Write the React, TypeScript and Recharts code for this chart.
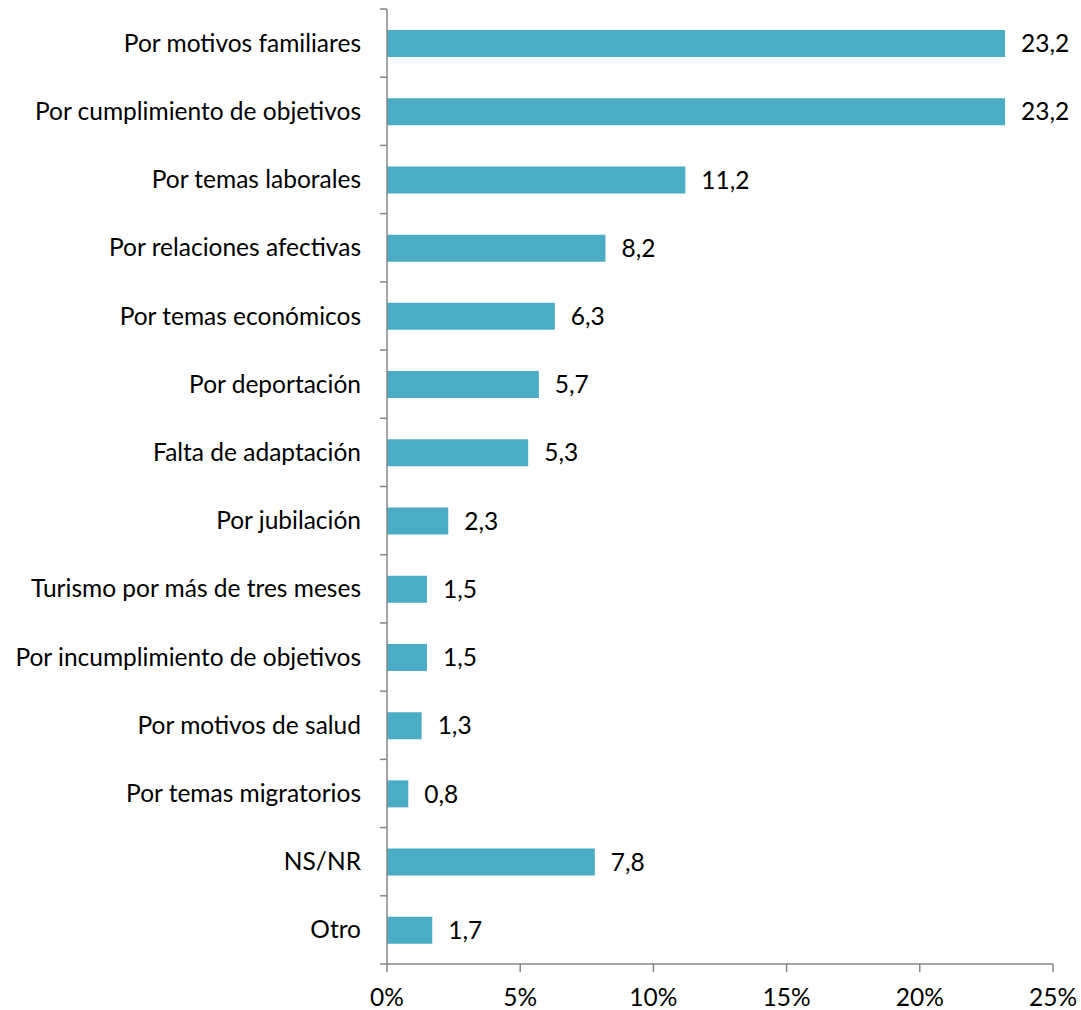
import React from 'react';
import { BarChart, Bar, XAxis, YAxis, LabelList } from 'recharts';

// Motivos de retorno (%)
const categories = [
  'Por motivos familiares',
  'Por cumplimiento de objetivos',
  'Por temas laborales',
  'Por relaciones afectivas',
  'Por temas económicos',
  'Por deportación',
  'Falta de adaptación',
  'Por jubilación',
  'Turismo por más de tres meses',
  'Por incumplimiento de objetivos',
  'Por motivos de salud',
  'Por temas migratorios',
  'NS/NR',
  'Otro',
];
const values = [23.2, 23.2, 11.2, 8.2, 6.3, 5.7, 5.3, 2.3, 1.5, 1.5, 1.3, 0.8, 7.8, 1.7];
const xTicks = [0, 5, 10, 15, 20, 25];

const data = categories.map((name, i) => ({ name, value: values[i] }));

const FONT = 'Lato, "Open Sans", sans-serif';
const FONT_SIZE = 24.5;
const AXIS_COLOR = '#868686';
const TICK_SIZE = 6;
const TICK_MARGIN = 20;

// category tick: label at centre, small tick mark at band boundaries (Excel style)
const CategoryTick = (props: any) => {
  const { x, y, payload, index } = props;
  const half = payload && payload.offset ? payload.offset : 34;
  const axisX = x + TICK_SIZE + TICK_MARGIN;
  const isLast = index === categories.length - 1;
  return (
    <g>
      <line x1={axisX - TICK_SIZE - 1} x2={axisX} y1={y - half} y2={y - half} stroke={AXIS_COLOR} strokeWidth={1.5} />
      {isLast && (
        <line x1={axisX - TICK_SIZE - 1} x2={axisX} y1={y + half} y2={y + half} stroke={AXIS_COLOR} strokeWidth={1.5} />
      )}
      <text x={x} y={y} dy="0.35em" textAnchor="end" fontSize={FONT_SIZE} fontFamily={FONT} fill="#000">
        {payload.value}
      </text>
    </g>
  );
};

export default function App() {
  return (
    <div style={{ position: 'absolute', left: 0, top: 0, background: '#fff' }}>
      <BarChart
        width={1081}
        height={1010}
        data={data}
        layout="vertical"
        margin={{ top: 9, right: 28, bottom: 0, left: 0 }}
        barCategoryGap="30%"
      >
        <XAxis
          type="number"
          domain={[0, 25]}
          ticks={xTicks}
          interval={0}
          tickFormatter={(v: number) => `${v}%`}
          height={46}
          stroke={AXIS_COLOR}
          strokeWidth={1.5}
          tickSize={8}
          tickMargin={17}
          tick={{ fontSize: FONT_SIZE, fontFamily: FONT, fill: '#000' }}
        />
        <YAxis
          type="category"
          dataKey="name"
          width={387}
          stroke={AXIS_COLOR}
          strokeWidth={1.5}
          tickLine={false}
          tickSize={TICK_SIZE}
          tickMargin={TICK_MARGIN}
          interval={0}
          tick={<CategoryTick />}
        />
        <Bar dataKey="value" fill="#4BACC6" barSize={27} isAnimationActive={false}>
          <LabelList
            dataKey="value"
            position="right"
            offset={16}
            formatter={(v: any) => Number(v).toFixed(1).replace('.', ',')}
            style={{ fontSize: FONT_SIZE, fontFamily: FONT, fill: '#000' }}
          />
        </Bar>
      </BarChart>
    </div>
  );
}
